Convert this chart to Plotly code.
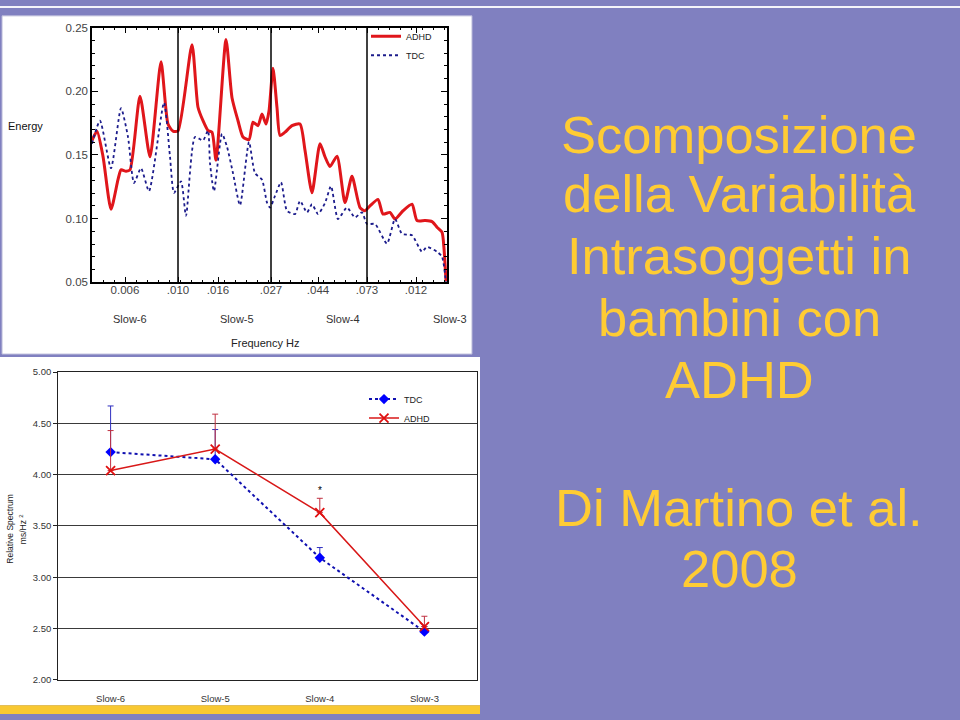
import plotly.graph_objects as go

# ---------------- Data: top chart (energy spectrum) ----------------
# frequency position along the (log-like) frequency axis, in axis units 0..355
adhd_pos = [0, 5, 11, 19, 26, 29, 34, 38, 48, 58, 69, 76, 81, 86, 100, 106, 111, 116, 120, 124,
            134, 140, 146, 151, 157, 161, 166, 170, 174, 177, 181, 185, 188, 193, 200, 208, 213,
            220, 228, 233, 238, 245, 253, 260, 268, 273, 278, 286, 291, 298, 303, 311, 320, 325,
            333, 340, 345, 350, 352, 354]
adhd_energy = [0.1614, 0.1687, 0.1489, 0.1074, 0.1306, 0.1383, 0.1373, 0.1383, 0.1962, 0.1486,
               0.2232, 0.1743, 0.1687, 0.1689, 0.2366, 0.1875, 0.1769, 0.1692, 0.1679, 0.1460,
               0.2407, 0.1950, 0.1769, 0.1641, 0.1620, 0.1757, 0.1730, 0.1821, 0.1743, 0.1846,
               0.2181, 0.1872, 0.1653, 0.1679, 0.1730, 0.1743, 0.1537, 0.1203, 0.1589, 0.1486,
               0.1409, 0.1491, 0.1126, 0.1332, 0.1087, 0.1062, 0.1100, 0.1151, 0.1036, 0.1049,
               0.0997, 0.1062, 0.1113, 0.0985, 0.0985, 0.0977, 0.0933, 0.0894, 0.0765, 0.0508]

tdc_pos = [0, 8, 19, 29, 36, 42, 49, 57, 72, 78, 82, 89, 94, 103, 111, 116, 118, 122, 130, 135,
           141, 148, 157, 163, 170, 175, 178, 183, 189, 195, 203, 208, 215, 220, 226, 233, 239,
           246, 255, 263, 270, 275, 283, 295, 303, 310, 320, 330, 335, 345, 350, 354]
tdc_energy = [0.1589, 0.1769, 0.1396, 0.1867, 0.1641, 0.1280, 0.1396, 0.1216, 0.1911, 0.1486,
              0.1203, 0.1293, 0.1023, 0.1641, 0.1614, 0.1692, 0.1435, 0.1216, 0.1666, 0.1564,
              0.1357, 0.1105, 0.1602, 0.1357, 0.1306, 0.1126, 0.1087, 0.1178, 0.1286, 0.1062,
              0.1036, 0.1139, 0.1049, 0.1113, 0.1036, 0.1122, 0.1255, 0.0997, 0.1087, 0.1010,
              0.1049, 0.0958, 0.0958, 0.0804, 0.0997, 0.0881, 0.0869, 0.0740, 0.0778, 0.0740,
              0.0701, 0.0495]

freq_tick_pos = [33, 86, 126, 179, 226, 275, 324]
freq_tick_labels = ["0.006", ".010", ".016", ".027", ".044", ".073", ".012"]
band_edges = [86, 179, 275]
band_label_pos = [38, 145, 251, 358]
band_labels = ["Slow-6", "Slow-5", "Slow-4", "Slow-3"]

# ---------------- Data: bottom chart (relative spectrum) ----------------
categories = ["Slow-6", "Slow-5", "Slow-4", "Slow-3"]
tdc_mean = [4.22, 4.15, 3.19, 2.47]
tdc_err = [0.45, 0.29, 0.10, 0.05]
adhd_mean = [4.04, 4.25, 3.63, 2.52]
adhd_err = [0.39, 0.34, 0.14, 0.10]
sig_flags = [False, False, True, False]

title_lines = ["Scomposizione", "della Variabilità", "Intrasoggetti in", "bambini con", "ADHD"]
ref_lines = ["Di Martino et al.", "2008"]

W, H = 960, 720
PURPLE = "#8080C0"
YELLOW = "#FFCC33"
FONT = "Liberation Sans, Arial, sans-serif"

TOP_X0, TOP_X1 = 92, 447          # pixel extent of the top plot area
TOP_RANGE = [0, 355]


def px(x):
    return x / W


def py(y):
    return 1 - y / H


def top_x_to_paper(v):
    # map a frequency-axis value of the top chart to paper coordinates
    frac = (v - TOP_RANGE[0]) / (TOP_RANGE[1] - TOP_RANGE[0])
    return px(TOP_X0 + frac * (TOP_X1 - TOP_X0))


fig = go.Figure()

# top chart traces
fig.add_trace(go.Scatter(x=adhd_pos, y=adhd_energy, mode="lines", name="ADHD",
                         line=dict(color="#E0161B", width=3, shape="spline", smoothing=0.6),
                         xaxis="x", yaxis="y", legend="legend"))
fig.add_trace(go.Scatter(x=tdc_pos, y=tdc_energy, mode="lines", name="TDC",
                         line=dict(color="#1C1C8C", width=1.8, dash="dot", shape="spline", smoothing=0.6),
                         xaxis="x", yaxis="y", legend="legend"))

# bottom chart traces
fig.add_trace(go.Scatter(x=categories, y=tdc_mean, mode="lines+markers", name="TDC",
                         line=dict(color="#1010B0", width=2, dash="dot"),
                         marker=dict(symbol="diamond", size=8, color="#0000FF"),
                         error_y=dict(type="data", symmetric=False, array=tdc_err,
                                      arrayminus=[0] * len(tdc_err), color="#3030C0",
                                      thickness=1, width=3),
                         xaxis="x2", yaxis="y2", legend="legend2"))
fig.add_trace(go.Scatter(x=categories, y=adhd_mean, mode="lines+markers", name="ADHD",
                         line=dict(color="#D81818", width=1.5),
                         marker=dict(symbol="x-thin", size=9, color="#E01010",
                                     line=dict(color="#E01010", width=1.8)),
                         error_y=dict(type="data", symmetric=False, array=adhd_err,
                                      arrayminus=[0] * len(adhd_err), color="#C03040",
                                      thickness=1, width=3),
                         xaxis="x2", yaxis="y2", legend="legend2"))

shapes = [
    # white strip at very top
    dict(type="rect", xref="paper", yref="paper", x0=0, x1=1, y0=py(2), y1=1,
         fillcolor="#F4F4FA", line=dict(width=0), layer="below"),
    # top chart panel
    dict(type="rect", xref="paper", yref="paper", x0=px(2), x1=px(472), y0=py(354), y1=py(10),
         fillcolor="white", line=dict(color="#B8B8D8", width=1), layer="below"),
    # bottom chart panel
    dict(type="rect", xref="paper", yref="paper", x0=px(0), x1=px(480), y0=py(711), y1=py(357),
         fillcolor="white", line=dict(width=0), layer="below"),
    # yellow bottom bar
    dict(type="rect", xref="paper", yref="paper", x0=0, x1=px(480), y0=0, y1=py(711),
         fillcolor="#F8C832", line=dict(width=0), layer="below"),
]
for e in band_edges:
    shapes.append(dict(type="line", xref="x", yref="y", x0=e, x1=e, y0=0.05, y1=0.25,
                       line=dict(color="black", width=1.5)))

annotations = []
# top chart texts
for p, lab in zip(band_label_pos, band_labels):
    annotations.append(dict(text=lab, xref="paper", yref="paper", x=top_x_to_paper(p), y=py(318),
                            showarrow=False, font=dict(family=FONT, size=11, color="#333"),
                            xanchor="center", yanchor="middle"))
annotations.append(dict(text="Frequency Hz", xref="paper", yref="paper", x=px(265), y=py(343),
                        xanchor="center", yanchor="middle",
                        showarrow=False, font=dict(family=FONT, size=11, color="#222")))
annotations.append(dict(text="Energy", xref="paper", yref="paper", x=px(25), y=py(122),
                        xanchor="center", yanchor="middle",
                        showarrow=False, font=dict(family=FONT, size=11, color="#111")))
# bottom chart texts
annotations.append(dict(text="Relative Spectrum", xref="paper", yref="paper", x=px(10.5), y=py(532),
                        xanchor="center", yanchor="middle",
                        textangle=-90, showarrow=False, font=dict(family=FONT, size=8.5, color="#222")))
annotations.append(dict(text="ms/Hz <sup>2</sup>", xref="paper", yref="paper", x=px(23), y=py(532),
                        xanchor="center", yanchor="middle",
                        textangle=-90, showarrow=False, font=dict(family=FONT, size=8.5, color="#222")))
for c, m, e, f in zip(categories, adhd_mean, adhd_err, sig_flags):
    if f:
        annotations.append(dict(text="*", xref="x2", yref="y2", x=c, y=m + e + 0.08,
                                showarrow=False, font=dict(family=FONT, size=10, color="black")))
# slide text
title_baselines = [148, 208, 271, 334, 397]
for t, b in zip(title_lines, title_baselines):
    annotations.append(dict(text=t, xref="paper", yref="paper", x=px(739), y=py(b - 17),
                            showarrow=False, xanchor="center", yanchor="middle",
                            font=dict(family=FONT, size=52.5, color=YELLOW)))
for t, b in zip(ref_lines, [527, 589]):
    annotations.append(dict(text=t, xref="paper", yref="paper", x=px(739), y=py(b - 17),
                            showarrow=False, xanchor="center", yanchor="middle",
                            font=dict(family=FONT, size=52.5, color=YELLOW)))

fig.update_layout(
    width=W, height=H, margin=dict(l=0, r=0, t=0, b=0),
    paper_bgcolor=PURPLE, plot_bgcolor="white",
    font=dict(family=FONT, color="#333"),
    shapes=shapes, annotations=annotations,
    xaxis=dict(domain=[px(TOP_X0), px(TOP_X1)], range=TOP_RANGE, anchor="y",
               tickmode="array", tickvals=freq_tick_pos, ticktext=freq_tick_labels,
               ticks="inside", ticklen=6, tickcolor="black", showgrid=False, zeroline=False,
               showline=True, linecolor="black", linewidth=1.5, mirror="ticks",
               ticklabelstandoff=-4,
               minor=dict(ticks="inside", ticklen=3, tickcolor="black", dtick=11, tick0=0, showgrid=False),
               tickfont=dict(family=FONT, size=11.5, color="#444")),
    yaxis=dict(domain=[py(281), py(22)], range=[0.05, 0.25], anchor="x",
               tickvals=[0.05, 0.10, 0.15, 0.20, 0.25], tickformat=".2f",
               ticks="inside", ticklen=6, tickcolor="black", showgrid=False, zeroline=False,
               showline=True, linecolor="black", linewidth=1.5, mirror="ticks",
               minor=dict(ticks="inside", ticklen=3, tickcolor="black", dtick=0.01, tick0=0.05, showgrid=False),
               tickfont=dict(family=FONT, size=11.5, color="#444")),
    xaxis2=dict(domain=[px(58.3), px(476.7)], anchor="y2", type="category", range=[-0.5, 3.5],
                showgrid=False, zeroline=False, showline=True, linecolor="#222", linewidth=1.2,
                mirror=True, ticks="", ticklabelstandoff=10,
                tickfont=dict(family=FONT, size=9.5, color="#333")),
    yaxis2=dict(domain=[py(685.3), py(372.3)], anchor="x2", range=[2, 5], dtick=0.5, tick0=2,
                tickformat=".2f", showgrid=True, gridcolor="#3a3a3a", gridwidth=1.3,
                zeroline=False, showline=True, linecolor="#222", linewidth=1.2, mirror=True,
                ticks="outside", ticklen=4, tickcolor="#222",
                tickfont=dict(family=FONT, size=9.5, color="#333")),
    legend=dict(x=px(366), y=py(16), xanchor="left", yanchor="top", bgcolor="rgba(0,0,0,0)",
                font=dict(family=FONT, size=9, color="#222"), tracegroupgap=0),
    legend2=dict(x=px(364), y=py(385), xanchor="left", yanchor="top", bgcolor="rgba(0,0,0,0)",
                 font=dict(family=FONT, size=9, color="#222"), tracegroupgap=0),
    showlegend=True,
)

fig.write_html("out.html", config={"displayModeBar": False},
               post_script="document.body.style.margin='0';document.body.style.padding='0';"
                           "document.body.style.overflow='hidden';")
